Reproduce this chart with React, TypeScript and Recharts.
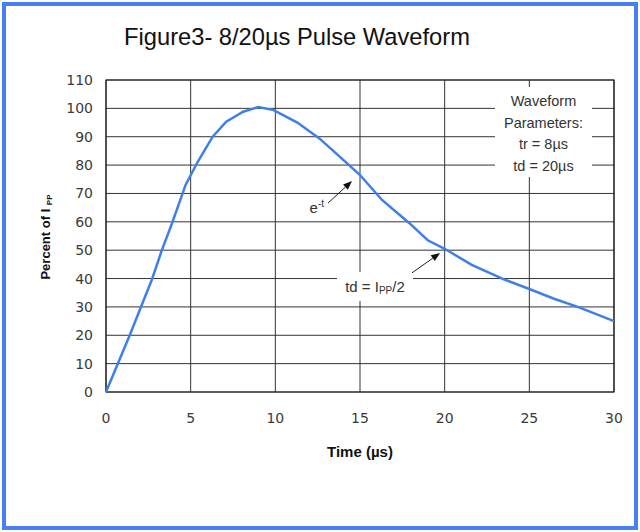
import React from 'react'
import {
  LineChart, Line, XAxis, YAxis, CartesianGrid, ReferenceArea, ReferenceLine,
} from 'recharts'

// values
const times = [0, 1.4, 2.0, 2.7, 3.3, 3.9, 4.7, 5.4, 6.3, 7.1, 8.1, 9.0, 9.9, 11.3, 12.6, 13.8, 15.0, 16.3, 17.9, 19.0, 20.0, 21.6, 23.5, 25.0, 26.5, 27.9, 30]
const percents = [0, 20, 29, 39.5, 50, 59.5, 73, 81, 90, 95.3, 98.8, 100.5, 99.4, 95, 89.4, 83, 76.5, 67.7, 59.6, 53.5, 50.5, 44.8, 39.7, 36.3, 32.8, 29.9, 25]
const xTicks = [0, 5, 10, 15, 20, 25, 30]
const yTicks = [0, 10, 20, 30, 40, 50, 60, 70, 80, 90, 100, 110]
const paramLines = ['Waveform', 'Parameters:', 'tr = 8µs', 'td = 20µs']

const data = times.map((t, i) => ({ t, p: percents[i] }))

const FONT = '"Liberation Sans", Arial, sans-serif'
const BLUE = '#3f7fea'

function arrow(label?: React.ReactNode) {
  return (props: any) => {
    const { x1, y1, x2, y2 } = props
    const a = Math.atan2(y2 - y1, x2 - x1)
    const len = 9, w = 3.5
    const bx = x2 - len * Math.cos(a), by = y2 - len * Math.sin(a)
    const pts = [
      `${x2},${y2}`,
      `${bx + w * Math.sin(a)},${by - w * Math.cos(a)}`,
      `${bx - w * Math.sin(a)},${by + w * Math.cos(a)}`,
    ].join(' ')
    return (
      <g>
        <line x1={x1} y1={y1} x2={bx} y2={by} stroke="#222" strokeWidth={1} />
        <polygon points={pts} fill="#111" />
        {label && (
          <text x={x1 - 4} y={y1 + 10} textAnchor="end" fontFamily={FONT} fontSize={15} fill="#333">
            {label}
          </text>
        )}
      </g>
    )
  }
}

export default function App() {
  return (
    <div style={{ position: 'absolute', left: 0, top: 0, width: 640, height: 532, background: '#fff' }}>
      <div style={{
        position: 'absolute', left: 2, top: 2, width: 628, height: 520,
        border: '4px solid #4a7ef6',
      }} />
      <div style={{
        position: 'absolute', left: 0, top: 23, width: 594, textAlign: 'center',
        fontFamily: FONT, fontSize: 23.7, lineHeight: '28px', color: '#111',
      }}>
        Figure3- 8/20µs Pulse Waveform
      </div>
      <div style={{ position: 'absolute', left: 0, top: 0 }}>
        <LineChart width={640} height={532} data={data} margin={{ top: 80, right: 26, bottom: 70, left: 6 }}>
          <CartesianGrid stroke="#333" strokeWidth={1} />
          <XAxis
            dataKey="t" type="number" domain={[0, 30]} ticks={xTicks} interval={0}
            axisLine={false} tickLine={false} height={70} tickMargin={15}
            tick={{ fontFamily: '"DejaVu Sans", sans-serif', fontSize: 14, fill: '#3a3a3a' }}
            label={(p: any) => (
              <text x={p.viewBox.x + p.viewBox.width / 2} y={p.viewBox.y + 65} textAnchor="middle"
                fontFamily={FONT} fontWeight="bold" fontSize={15} fill="#111">Time (µs)</text>
            )}
          />
          <YAxis
            type="number" domain={[0, 110]} ticks={yTicks} interval={0}
            axisLine={false} tickLine={false} width={100} tickMargin={7}
            tick={{ fontFamily: '"DejaVu Sans", sans-serif', fontSize: 14, fill: '#3a3a3a' }}
            label={(p: any) => {
              const cx = p.viewBox.x + 44, cy = 237
              return (
                <text x={cx} y={cy} transform={`rotate(-90, ${cx}, ${cy})`} textAnchor="middle"
                  fontFamily={FONT} fontWeight="bold" fontSize={13} fill="#111">
                  Percent of I <tspan fontSize={8} dy={2}>PP</tspan>
                </text>
              )
            }}
          />
          <ReferenceArea x1={0} x2={30} y1={0} y2={110} fill="none" stroke="#222" strokeWidth={1.2} />
          <ReferenceArea
            x1={22.97} x2={28.7} y1={75.8} y2={107.5} fill="#fff" fillOpacity={1} stroke="none"
            label={(p: any) => {
              const cx = p.viewBox.x + p.viewBox.width / 2
              return (
                <g>
                  {paramLines.map((s, i) => (
                    <text key={s} x={cx} y={p.viewBox.y + 19 + i * 21.5} textAnchor="middle"
                      fontFamily={FONT} fontSize={14.5} fill="#333">{s}</text>
                  ))}
                </g>
              )
            }}
          />
          <ReferenceArea
            x1={13.64} x2={18.13} y1={32.1} y2={42.3} fill="#fff" fillOpacity={1} stroke="none"
            label={(p: any) => (
              <text x={p.viewBox.x + p.viewBox.width / 2} y={p.viewBox.y + 20} textAnchor="middle"
                fontFamily={FONT} fontSize={15} fill="#333">
                td = I<tspan fontSize={10} dy={2}>PP</tspan><tspan dy={-2}>/2</tspan>
              </text>
            )}
          />
          <ReferenceLine
            segment={[{ x: 13.11, y: 66.6 }, { x: 14.53, y: 74.4 }]}
            shape={arrow(<>e<tspan fontSize={10} dy={-6}>-t</tspan></>)}
          />
          <ReferenceLine
            segment={[{ x: 18.07, y: 42.0 }, { x: 19.73, y: 49.0 }]}
            shape={arrow()}
          />
          <Line
            type="linear" dataKey="p" stroke={BLUE} strokeWidth={2.5}
            dot={false} activeDot={false} isAnimationActive={false}
          />
        </LineChart>
      </div>
    </div>
  )
}
